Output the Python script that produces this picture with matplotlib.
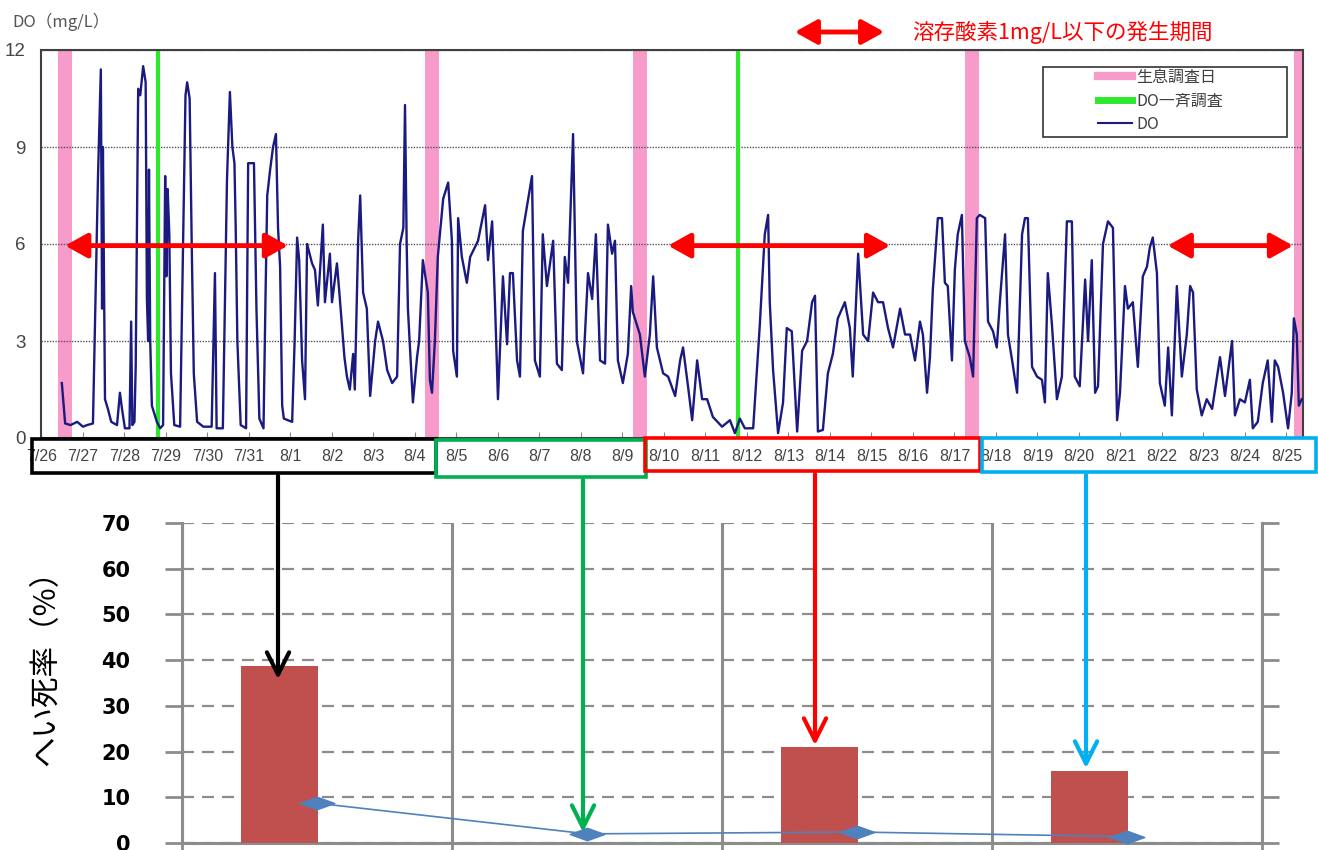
import matplotlib
matplotlib.use("Agg")
import matplotlib.pyplot as plt
from matplotlib.lines import Line2D
from matplotlib.patches import Rectangle, FancyArrowPatch
from matplotlib.path import Path

plt.rcParams['font.family'] = ['Noto Sans CJK JP', 'DejaVu Sans']

W, H = 1318, 850

# DO record: days since 7/26 0:00, DO in mg/L
t_day = [
    0.49, 0.57, 0.70, 0.86, 1.00, 1.10, 1.24, 1.29, 1.36, 1.43,
    1.46, 1.48, 1.53, 1.60, 1.68, 1.82, 1.89, 1.94, 2.01, 2.12,
    2.16, 2.19, 2.24, 2.27, 2.33, 2.38, 2.45, 2.51, 2.54, 2.57,
    2.59, 2.62, 2.66, 2.78, 2.86, 2.93, 2.98, 3.01, 3.04, 3.08,
    3.12, 3.20, 3.34, 3.40, 3.47, 3.51, 3.57, 3.62, 3.67, 3.75,
    3.90, 4.10, 4.18, 4.22, 4.37, 4.47, 4.54, 4.60, 4.65, 4.68,
    4.72, 4.80, 4.93, 4.98, 5.12, 5.18, 5.25, 5.35, 5.40, 5.44,
    5.51, 5.58, 5.65, 5.70, 5.75, 5.80, 5.84, 6.04, 6.10, 6.16,
    6.21, 6.28, 6.35, 6.40, 6.52, 6.59, 6.66, 6.78, 6.83, 6.95,
    7.00, 7.12, 7.19, 7.30, 7.36, 7.43, 7.51, 7.55, 7.63, 7.68,
    7.75, 7.84, 7.92, 8.04, 8.11, 8.23, 8.33, 8.45, 8.57, 8.64,
    8.72, 8.76, 8.80, 8.83, 8.95, 9.05, 9.10, 9.19, 9.31, 9.36,
    9.41, 9.48, 9.55, 9.68, 9.80, 9.89, 9.92, 10.01, 10.04, 10.13,
    10.25, 10.33, 10.52, 10.69, 10.76, 10.86, 10.93, 11.00, 11.12, 11.22,
    11.29, 11.36, 11.46, 11.53, 11.60, 11.82, 11.89, 12.01, 12.08, 12.18,
    12.33, 12.42, 12.54, 12.61, 12.69, 12.81, 12.90, 13.05, 13.17, 13.27,
    13.36, 13.46, 13.58, 13.65, 13.75, 13.82, 13.89, 14.01, 14.13, 14.21,
    14.25, 14.42, 14.54, 14.66, 14.74, 14.83, 14.98, 15.10, 15.27, 15.39,
    15.46, 15.58, 15.68, 15.80, 15.92, 16.04, 16.18, 16.40, 16.59, 16.71,
    16.83, 16.95, 17.15, 17.31, 17.43, 17.51, 17.55, 17.63, 17.75, 17.87,
    17.96, 18.08, 18.21, 18.33, 18.45, 18.57, 18.64, 18.71, 18.83, 18.95,
    19.07, 19.19, 19.36, 19.48, 19.55, 19.68, 19.80, 19.92, 20.04, 20.16,
    20.28, 20.40, 20.52, 20.69, 20.81, 20.93, 21.05, 21.17, 21.24, 21.34,
    21.41, 21.48, 21.60, 21.70, 21.77, 21.84, 21.94, 22.01, 22.08, 22.18,
    22.25, 22.37, 22.45, 22.54, 22.61, 22.74, 22.81, 22.93, 23.02, 23.10,
    23.22, 23.29, 23.39, 23.51, 23.63, 23.70, 23.77, 23.87, 23.99, 24.11,
    24.18, 24.25, 24.35, 24.47, 24.59, 24.71, 24.83, 24.90, 25.02, 25.15,
    25.22, 25.31, 25.39, 25.46, 25.58, 25.70, 25.82, 25.92, 25.99, 26.11,
    26.18, 26.30, 26.42, 26.54, 26.64, 26.71, 26.78, 26.88, 26.95, 27.07,
    27.15, 27.24, 27.36, 27.48, 27.60, 27.68, 27.75, 27.84, 27.96, 28.08,
    28.21, 28.33, 28.40, 28.52, 28.69, 28.76, 28.88, 29.00, 29.12, 29.19,
    29.31, 29.43, 29.55, 29.65, 29.72, 29.80, 29.92, 30.04, 30.13, 30.18,
    30.25, 30.30, 30.37,
]
do_mgl = [
    1.7, 0.45, 0.4, 0.5, 0.35, 0.4, 0.45, 3.6, 8.0, 11.4,
    4.0, 9.0, 1.2, 0.9, 0.5, 0.4, 1.4, 0.9, 0.3, 0.3,
    3.6, 0.4, 0.5, 2.2, 10.8, 10.6, 11.5, 11.0, 4.3, 3.0,
    8.3, 3.0, 1.0, 0.5, 0.3, 0.4, 8.1, 5.0, 7.7, 6.3,
    2.0, 0.4, 0.35, 5.0, 10.6, 11.0, 10.5, 6.0, 2.0, 0.5,
    0.35, 0.35, 5.1, 0.3, 0.3, 8.0, 10.7, 9.0, 8.5, 6.5,
    3.0, 0.4, 0.3, 8.5, 8.5, 4.0, 0.6, 0.3, 4.5, 7.5,
    8.3, 9.0, 9.4, 6.5, 5.3, 1.0, 0.6, 0.5, 3.0, 6.2,
    5.5, 2.4, 1.2, 6.0, 5.4, 5.2, 4.1, 6.6, 4.2, 5.7,
    4.2, 5.4, 4.3, 2.5, 1.9, 1.5, 2.6, 1.5, 6.1, 7.5,
    4.5, 4.0, 1.3, 3.0, 3.6, 3.0, 2.1, 1.7, 1.9, 6.0,
    6.5, 10.3, 6.0, 4.0, 1.1, 2.5, 3.0, 5.5, 4.5, 1.8,
    1.4, 3.0, 5.6, 7.4, 7.9, 6.1, 2.7, 1.9, 6.8, 5.6,
    4.8, 5.6, 6.1, 7.2, 5.5, 6.7, 4.1, 1.2, 5.0, 2.9,
    5.1, 5.1, 2.4, 1.9, 6.4, 8.1, 2.4, 1.9, 6.3, 4.7,
    6.1, 2.3, 2.1, 5.6, 4.8, 9.4, 3.0, 2.0, 5.1, 4.3,
    6.3, 2.4, 2.3, 6.6, 5.7, 6.1, 2.4, 1.7, 2.6, 4.7,
    3.9, 3.2, 1.9, 3.2, 5.0, 2.8, 2.0, 1.9, 1.3, 2.4,
    2.8, 1.6, 0.55, 2.4, 1.2, 1.2, 0.65, 0.35, 0.55, 0.15,
    0.6, 0.3, 0.3, 3.5, 6.3, 6.9, 4.2, 2.1, 0.15, 1.1,
    3.4, 3.3, 0.2, 2.7, 3.0, 4.2, 4.4, 0.2, 0.25, 2.0,
    2.6, 3.7, 4.2, 3.4, 1.9, 5.7, 3.2, 3.0, 4.5, 4.2,
    4.2, 3.4, 2.8, 4.0, 3.2, 3.2, 2.4, 3.6, 3.2, 1.4,
    2.5, 4.6, 6.8, 6.8, 4.8, 4.7, 2.4, 5.2, 6.3, 6.9,
    3.0, 2.5, 1.9, 6.8, 6.9, 6.8, 3.6, 3.3, 2.8, 4.3,
    6.3, 3.2, 2.4, 1.4, 6.3, 6.8, 6.8, 2.2, 1.9, 1.8,
    1.1, 5.1, 3.5, 1.2, 1.9, 6.7, 6.7, 1.9, 1.6, 4.9,
    3.0, 5.5, 1.4, 1.6, 6.0, 6.7, 6.5, 0.55, 1.4, 4.7,
    4.0, 4.2, 2.2, 5.0, 5.3, 5.9, 6.2, 5.1, 1.7, 1.0,
    2.8, 0.7, 4.7, 1.9, 3.2, 4.7, 4.5, 1.5, 0.7, 1.2,
    0.9, 1.9, 2.5, 1.3, 3.0, 0.7, 1.2, 1.1, 1.8, 0.3,
    0.5, 1.7, 2.4, 0.5, 2.4, 2.2, 1.4, 0.3, 1.4, 3.7,
    3.2, 1.0, 1.2,
]
assert len(t_day) == len(do_mgl)

date_labels = ['7/26', '7/27', '7/28', '7/29', '7/30', '7/31',
               '8/1', '8/2', '8/3', '8/4', '8/5', '8/6', '8/7', '8/8', '8/9',
               '8/10', '8/11', '8/12', '8/13', '8/14', '8/15', '8/16', '8/17',
               '8/18', '8/19', '8/20', '8/21', '8/22', '8/23', '8/24', '8/25']
survey_days = [0.57, 9.40, 14.42, 22.42, 30.35]      # 生息調査日
do_survey_days = [2.81, 16.78]                       # DO一斉調査
low_do_periods = [(0.57, 5.94), (15.10, 20.45), (27.14, 30.16)]

# mortality panel
mortality = [38.8, 0.0, 20.9, 15.8]
line_vals = [8.7, 2.0, 2.4, 1.4]

PINK = '#F79BCB'
GREEN = '#2EE82E'
NAVY = '#1A1A80'
GRAY = '#8C8C8C'


def fx(x):
    return x / W


def fy(y):
    return 1 - y / H


fig = plt.figure(figsize=(W / 100, H / 100), dpi=100)

# ---------------- top: DO time series ----------------
ax = fig.add_axes([fx(41), fy(438), (1303 - 41) / W, (438 - 50) / H])
for d in survey_days:
    ax.axvspan(d - 0.17, d + 0.17, color=PINK, lw=0, zorder=1)
for d in do_survey_days:
    ax.axvline(d, color=GREEN, lw=3, zorder=2)
ax.plot(t_day, do_mgl, color=NAVY, lw=1.7, zorder=3)

ax.set_xlim(-0.012, 30.40)
ax.set_ylim(0, 12)
ax.set_yticks([0, 3, 6, 9, 12])
ax.set_xticks(range(len(date_labels)))
ax.set_xticklabels(date_labels)
ax.grid(axis='y', color='#555555', ls=(0, (1, 1)), lw=1, zorder=0)
ax.tick_params(axis='x', direction='in', length=4, color='#888888', pad=8,
               labelsize=11.5, labelcolor='#444444')
ax.tick_params(axis='y', length=0, pad=11, labelsize=13.5, labelcolor='#444444')
for lab in ax.get_xticklabels() + ax.get_yticklabels():
    lab.set_fontfamily(['Liberation Sans', 'DejaVu Sans'])
for s in ax.spines.values():
    s.set_color('#404040')
    s.set_linewidth(1.5)

for a, b in low_do_periods:
    ax.annotate('', xy=(b, 5.95), xytext=(a, 5.95),
                arrowprops=dict(arrowstyle='<|-|>,head_length=0.9,head_width=0.5',
                                color='red', lw=3.5, mutation_scale=15,
                                shrinkA=0, shrinkB=0), zorder=6)

handles = [Line2D([], [], color=PINK, lw=6),
           Line2D([], [], color=GREEN, lw=5),
           Line2D([], [], color=NAVY, lw=1.5)]
leg = ax.legend(handles, ['生息調査日', 'DO一斉調査', 'DO'], loc='upper left',
                bbox_to_anchor=(fx(1098), fy(69)), bbox_transform=fig.transFigure,
                frameon=False, fontsize=11.5, handlelength=2.1, handletextpad=0.3,
                labelspacing=0.4, borderpad=0, borderaxespad=0)
for t in leg.get_texts():
    t.set_color('#404040')
fig.add_artist(Rectangle((fx(1043), fy(137)), (1287 - 1043) / W, (137 - 67) / H,
                         transform=fig.transFigure, fill=False, ec='#333333', lw=1.2))

fig.text(fx(12), fy(22), 'DO（mg/L）', fontsize=12, color='#555555', va='center')
fig.add_artist(FancyArrowPatch(posA=(fx(792), fy(32)), posB=(fx(887), fy(32)),
                               transform=fig.transFigure,
                               arrowstyle='<|-|>,head_length=0.9,head_width=0.5',
                               color='red', lw=3.5, mutation_scale=15))
fig.text(fx(912), fy(32), '溶存酸素1mg/L以下の発生期間', color='red',
         fontsize=15.5, va='center')

# coloured boxes round the date groups and the arrows down to the bars
boxes = [(32, 439, 436, 473, 'black'), (436, 440, 646, 477, '#00B050'),
         (645, 438, 980, 471, 'red'), (982, 438, 1316, 472, '#00B0F0')]
for x0, y0, x1, y1, c in boxes:
    fig.add_artist(Rectangle((fx(x0), fy(y1)), (x1 - x0) / W, (y1 - y0) / H,
                             transform=fig.transFigure, fill=False, ec=c, lw=2.6,
                             zorder=10))
drops = [(278, 473, 682, 'black'), (583, 477, 835, '#00B050'),
         (815, 471, 748, 'red'), (1086, 472, 771, '#00B0F0')]
for x, ya, yb, c in drops:
    fig.add_artist(FancyArrowPatch(posA=(fx(x), fy(ya)), posB=(fx(x), fy(yb)),
                                   transform=fig.transFigure,
                                   arrowstyle='->,head_length=0.8,head_width=0.4',
                                   color=c, lw=3, mutation_scale=20, zorder=11))

# ---------------- bottom: mortality ----------------
ax2 = fig.add_axes([fx(182), fy(843), (1262 - 182) / W, (843 - 523) / H])
ax2.set_axisbelow(True)
ax2.bar([i - 0.14 for i in range(len(mortality))], mortality, width=0.285,
        color='#C0504D', zorder=3)
flat_diamond = Path([(-1, 0), (0, 0.36), (1, 0), (0, -0.36), (-1, 0)],
                    [Path.MOVETO, Path.LINETO, Path.LINETO, Path.LINETO, Path.CLOSEPOLY])
ax2.plot(range(len(line_vals)), line_vals, color='#4F81BD', lw=1.2,
         marker=flat_diamond, ms=25, mfc='#4F81BD', mec='#4F81BD', zorder=4,
         clip_on=False)

ax2.set_xlim(-0.5, 3.5)
ax2.set_ylim(0, 70)
ax2.set_xticks([-0.5, 0.5, 1.5, 2.5, 3.5])
ax2.set_yticks(range(0, 80, 10))
ax2.grid(axis='x', color=GRAY, lw=2.2)
ax2.grid(axis='y', color=GRAY, lw=1.6, ls=(0, (5.4, 3.6)))
ax2.tick_params(axis='x', direction='out', length=5, width=2, color=GRAY,
                labelbottom=False)
ax2.tick_params(axis='y', direction='out', left=True, right=True, length=12,
                width=2, color=GRAY, pad=25, labelsize=15)
for lab in ax2.get_yticklabels():
    lab.set_fontweight('bold')
    lab.set_fontfamily(['DejaVu Sans'])
ax2.spines['top'].set_visible(False)
for side in ['left', 'right', 'bottom']:
    ax2.spines[side].set_color(GRAY)
    ax2.spines[side].set_linewidth(2.2)
ax2.set_ylabel('へい死率（%）', fontsize=22)
ax2.yaxis.set_label_coords(-0.112, 0.57)

fig.savefig('out.png', dpi=100)
